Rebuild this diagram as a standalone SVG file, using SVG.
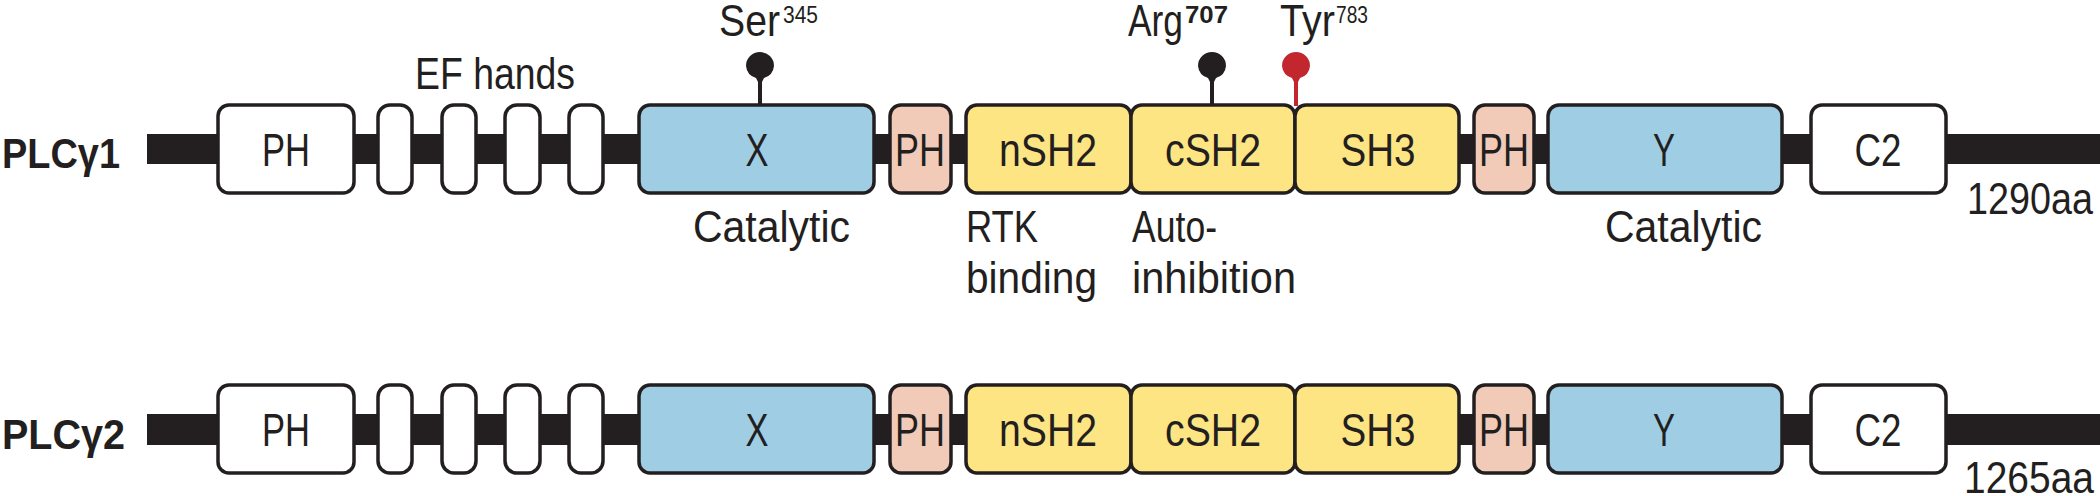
<svg xmlns="http://www.w3.org/2000/svg" width="2100" height="496" viewBox="0 0 2100 496">
<style>
.bar{fill:#231f20}
.box{stroke:#231f20;stroke-width:3.5}
.w{fill:#ffffff}
.b{fill:#9ecde4}
.s{fill:#f2cab8}
.y{fill:#fee584}
.t{font-family:"Liberation Sans",Arial,sans-serif;font-size:46px;fill:#231f20}
.lbl{font-family:"Liberation Sans",Arial,sans-serif;font-size:45px;fill:#231f20}
.sup{font-size:24px}
.name{font-family:"Liberation Sans",Arial,sans-serif;font-size:42px;font-weight:bold;fill:#231f20}
.stick{stroke:#231f20;stroke-width:4}
.red{stroke:#c1272d;fill:#c1272d}
</style>
<defs>
<path id="pin" d="M-14,0 A14,14 0 1 1 14,0 A14,14 0 0 1 4,12 L2,16 L-2,16 L-4,12 A14,14 0 0 1 -14,0 Z"/>
</defs>
<g id="connectors">
<rect class="bar" x="147" y="134" width="1953" height="30"/>
<rect class="bar" x="147" y="414" width="1953" height="31"/>
<line class="stick" x1="760" y1="70" x2="760" y2="106"/>
<line class="stick" x1="1212" y1="70" x2="1212" y2="106"/>
<line class="stick red" x1="1296" y1="70" x2="1296" y2="106"/>
</g>
<g id="row1-label"><text class="name" x="2" y="168" textLength="118" lengthAdjust="spacingAndGlyphs">PLCγ1</text></g>
<g id="row2-label"><text class="name" x="2" y="449" textLength="123" lengthAdjust="spacingAndGlyphs">PLCγ2</text></g>
<g id="r1-PH1"><rect class="box w" x="218" y="105" width="136" height="88" rx="11"/><text class="t" x="286" y="166" text-anchor="middle" textLength="48" lengthAdjust="spacingAndGlyphs">PH</text></g>
<g id="r1-EF1"><rect class="box w" x="378" y="105" width="34" height="88" rx="12"/></g>
<g id="r1-EF2"><rect class="box w" x="442" y="105" width="34" height="88" rx="12"/></g>
<g id="r1-EF3"><rect class="box w" x="505" y="105" width="35" height="88" rx="12"/></g>
<g id="r1-EF4"><rect class="box w" x="569" y="105" width="34" height="88" rx="12"/></g>
<g id="r1-X"><rect class="box b" x="639" y="105" width="235" height="88" rx="11"/><text class="t" x="757" y="166" text-anchor="middle" textLength="23" lengthAdjust="spacingAndGlyphs">X</text></g>
<g id="r1-PH2"><rect class="box s" x="890" y="105" width="61" height="88" rx="11"/><text class="t" x="920" y="166" text-anchor="middle" textLength="50" lengthAdjust="spacingAndGlyphs">PH</text></g>
<g id="r1-nSH2"><rect class="box y" x="966" y="105" width="165" height="88" rx="11"/><text class="t" x="1048" y="166" text-anchor="middle" textLength="98" lengthAdjust="spacingAndGlyphs">nSH2</text></g>
<g id="r1-cSH2"><rect class="box y" x="1131" y="105" width="164" height="88" rx="11"/><text class="t" x="1213" y="166" text-anchor="middle" textLength="96" lengthAdjust="spacingAndGlyphs">cSH2</text></g>
<g id="r1-SH3"><rect class="box y" x="1295" y="105" width="164" height="88" rx="11"/><text class="t" x="1378" y="166" text-anchor="middle" textLength="75" lengthAdjust="spacingAndGlyphs">SH3</text></g>
<g id="r1-PH3"><rect class="box s" x="1474" y="105" width="60" height="88" rx="11"/><text class="t" x="1504" y="166" text-anchor="middle" textLength="50" lengthAdjust="spacingAndGlyphs">PH</text></g>
<g id="r1-Y"><rect class="box b" x="1548" y="105" width="234" height="88" rx="11"/><text class="t" x="1664" y="166" text-anchor="middle" textLength="22" lengthAdjust="spacingAndGlyphs">Y</text></g>
<g id="r1-C2"><rect class="box w" x="1811" y="105" width="135" height="88" rx="11"/><text class="t" x="1878" y="166" text-anchor="middle" textLength="47" lengthAdjust="spacingAndGlyphs">C2</text></g>
<g id="r2-PH1"><rect class="box w" x="218" y="385" width="136" height="88" rx="11"/><text class="t" x="286" y="446" text-anchor="middle" textLength="48" lengthAdjust="spacingAndGlyphs">PH</text></g>
<g id="r2-EF1"><rect class="box w" x="378" y="385" width="34" height="88" rx="12"/></g>
<g id="r2-EF2"><rect class="box w" x="442" y="385" width="34" height="88" rx="12"/></g>
<g id="r2-EF3"><rect class="box w" x="505" y="385" width="35" height="88" rx="12"/></g>
<g id="r2-EF4"><rect class="box w" x="569" y="385" width="34" height="88" rx="12"/></g>
<g id="r2-X"><rect class="box b" x="639" y="385" width="235" height="88" rx="11"/><text class="t" x="757" y="446" text-anchor="middle" textLength="23" lengthAdjust="spacingAndGlyphs">X</text></g>
<g id="r2-PH2"><rect class="box s" x="890" y="385" width="61" height="88" rx="11"/><text class="t" x="920" y="446" text-anchor="middle" textLength="50" lengthAdjust="spacingAndGlyphs">PH</text></g>
<g id="r2-nSH2"><rect class="box y" x="966" y="385" width="165" height="88" rx="11"/><text class="t" x="1048" y="446" text-anchor="middle" textLength="98" lengthAdjust="spacingAndGlyphs">nSH2</text></g>
<g id="r2-cSH2"><rect class="box y" x="1131" y="385" width="164" height="88" rx="11"/><text class="t" x="1213" y="446" text-anchor="middle" textLength="96" lengthAdjust="spacingAndGlyphs">cSH2</text></g>
<g id="r2-SH3"><rect class="box y" x="1295" y="385" width="164" height="88" rx="11"/><text class="t" x="1378" y="446" text-anchor="middle" textLength="75" lengthAdjust="spacingAndGlyphs">SH3</text></g>
<g id="r2-PH3"><rect class="box s" x="1474" y="385" width="60" height="88" rx="11"/><text class="t" x="1504" y="446" text-anchor="middle" textLength="50" lengthAdjust="spacingAndGlyphs">PH</text></g>
<g id="r2-Y"><rect class="box b" x="1548" y="385" width="234" height="88" rx="11"/><text class="t" x="1664" y="446" text-anchor="middle" textLength="22" lengthAdjust="spacingAndGlyphs">Y</text></g>
<g id="r2-C2"><rect class="box w" x="1811" y="385" width="135" height="88" rx="11"/><text class="t" x="1878" y="446" text-anchor="middle" textLength="47" lengthAdjust="spacingAndGlyphs">C2</text></g>
<g id="site-Ser345"><use href="#pin" x="760" y="66" fill="#231f20"/><text class="lbl" x="719" y="36"><tspan textLength="61" lengthAdjust="spacingAndGlyphs">Ser</tspan><tspan class="sup" x="783" y="23" textLength="35" lengthAdjust="spacingAndGlyphs">345</tspan></text></g>
<g id="site-Arg707"><use href="#pin" x="1212" y="66" fill="#231f20"/><text class="lbl" x="1128" y="36"><tspan textLength="55" lengthAdjust="spacingAndGlyphs">Arg</tspan><tspan class="sup" x="1185" y="23" font-weight="bold" textLength="43" lengthAdjust="spacingAndGlyphs">707</tspan></text></g>
<g id="site-Tyr783"><use href="#pin" x="1296" y="66" fill="#c1272d"/><text class="lbl" x="1280" y="36"><tspan textLength="55" lengthAdjust="spacingAndGlyphs">Tyr</tspan><tspan class="sup" x="1336" y="23" textLength="32" lengthAdjust="spacingAndGlyphs">783</tspan></text></g>
<g id="annotations">
<text class="lbl" x="415" y="89" textLength="160" lengthAdjust="spacingAndGlyphs">EF hands</text>
<text class="lbl" x="693" y="242" textLength="157" lengthAdjust="spacingAndGlyphs">Catalytic</text>
<text class="lbl" x="966" y="242" textLength="72" lengthAdjust="spacingAndGlyphs">RTK</text>
<text class="lbl" x="966" y="293" textLength="131" lengthAdjust="spacingAndGlyphs">binding</text>
<text class="lbl" x="1132" y="242" textLength="85" lengthAdjust="spacingAndGlyphs">Auto-</text>
<text class="lbl" x="1132" y="293" textLength="164" lengthAdjust="spacingAndGlyphs">inhibition</text>
<text class="lbl" x="1605" y="242" textLength="157" lengthAdjust="spacingAndGlyphs">Catalytic</text>
<text class="lbl" x="1967" y="214" textLength="126" lengthAdjust="spacingAndGlyphs">1290aa</text>
<text class="lbl" x="1964" y="493" textLength="130" lengthAdjust="spacingAndGlyphs">1265aa</text>
</g>
</svg>
